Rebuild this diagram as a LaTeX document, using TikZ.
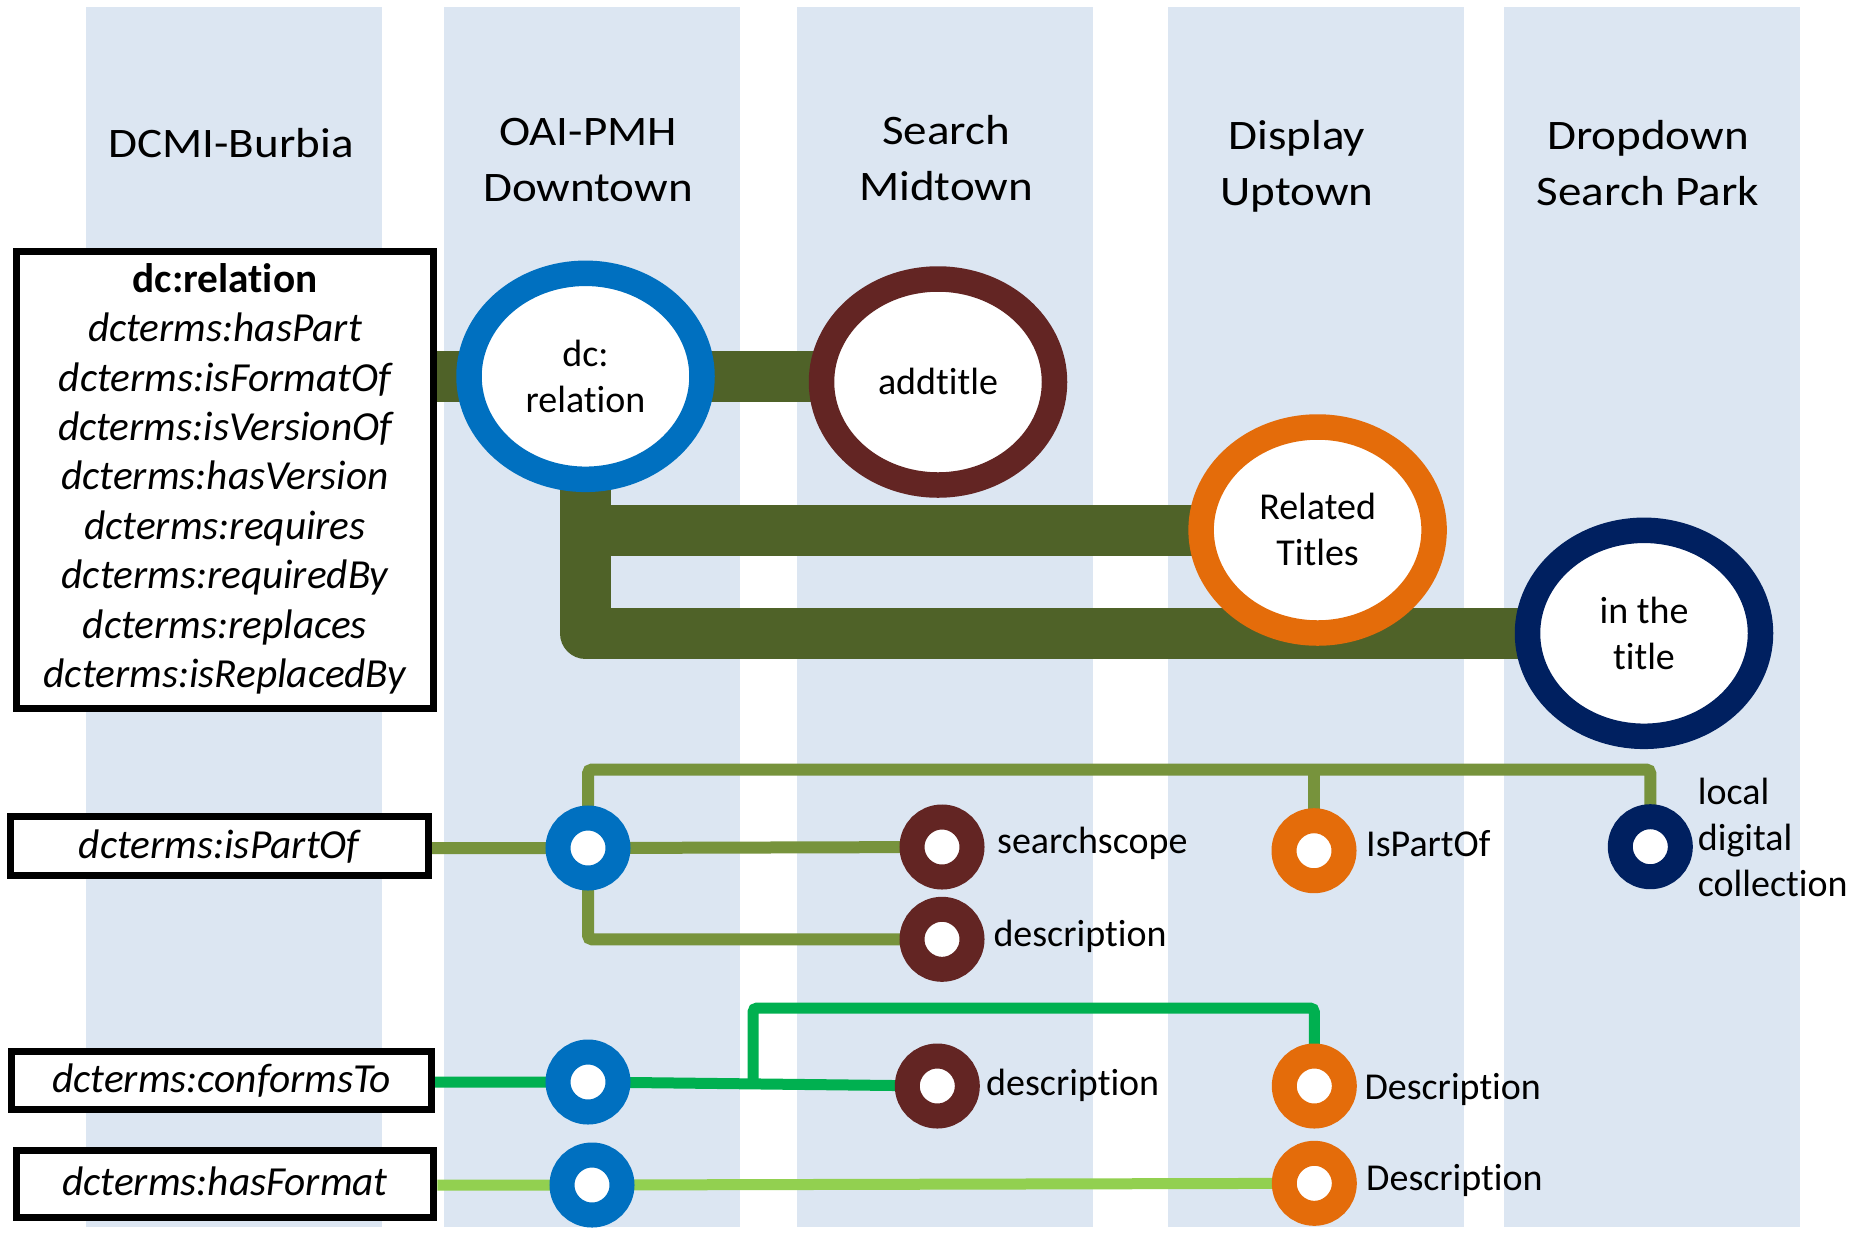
\documentclass[tikz,border=0pt]{standalone}
\usepackage{fontspec}
\setmainfont{Carlito}[Ligatures=NoCommon]
\usetikzlibrary{shapes.geometric}
\pgfdeclarelayer{bg}
\pgfdeclarelayer{lines}
\pgfsetlayers{bg,lines,main}
\definecolor{colbg}{HTML}{DCE6F2}
\definecolor{cblue}{HTML}{0070C0}
\definecolor{cdred}{HTML}{632523}
\definecolor{corange}{HTML}{E46C0A}
\definecolor{cnavy}{HTML}{002060}
\definecolor{cdgreen}{HTML}{4F6228}
\definecolor{colive}{HTML}{77933C}
\definecolor{cgreen}{HTML}{00B050}
\definecolor{clgreen}{HTML}{92D050}
\newcommand{\hdtext}[1]{\scalebox{1.12}[1]{\begin{tabular}[t]{@{}c@{}}#1\end{tabular}}}
\newcommand{\ctext}[1]{\begin{tabular}{@{}c@{}}#1\end{tabular}}
\newcommand{\stext}[1]{\raisebox{-3.5pt}[\height][\depth]{\begin{tabular}{@{}c@{}}#1\end{tabular}}}
\begin{document}
\begin{tikzpicture}[x=1pt,y=-1pt,
  hdr/.style={font=\fontsize{42}{56}\selectfont, anchor=base, inner sep=0pt},
  lbl/.style={font=\fontsize{38}{46}\selectfont, anchor=base west, inner sep=0pt},
  bigst/.style={ellipse, minimum width=233pt, minimum height=206pt, line width=25.5pt,
     fill=white, inner sep=0pt, font=\fontsize{38}{46}\selectfont},
  smallst/.style={circle, minimum size=60pt, line width=25pt, fill=white, inner sep=0pt},
  boxst/.style={draw=black, line width=7pt, fill=white, inner sep=0pt,
     font=\fontsize{41.3}{49.4}\selectfont\itshape},
  onebox/.style={boxst, text height=31pt, text depth=7pt},
  thickline/.style={draw=cdgreen, line width=51pt, line join=round},
  oliveline/.style={draw=colive, line width=12pt, rounded corners=4pt},
  greenline/.style={draw=cgreen, line width=11pt, rounded corners=4pt},
  lgreenline/.style={draw=clgreen, line width=11pt}]
\useasboundingbox (0,0) rectangle (1851,1232);
\begin{pgfonlayer}{bg}
  \fill[white] (0,0) rectangle (1851,1232);
  \foreach \cx in {85.5,444,797,1168,1503.5}
    \fill[colbg] (\cx,6.5) rectangle ++(296,1220.5);
\end{pgfonlayer}

% headers
\node[hdr] (h1) at (231,157) {\hdtext{DCMI-Burbia}};
\node[hdr] (h2) at (588,145) {\hdtext{OAI-PMH\\Downtown}};
\node[hdr] (h3) at (946,144.6) {\hdtext{Search\\Midtown}};
\node[hdr] (h4) at (1297,149) {\hdtext{Display\\Uptown}};
\node[hdr] (h5) at (1648,149) {\hdtext{Dropdown\\Search Park}};

% boxes
\node[boxst, minimum width=417.6pt, minimum height=456.4pt] (bigbox) at (225,480)
  {\ctext{{\upshape\bfseries dc:relation}\\dcterms:hasPart\\dcterms:isFormatOf\\dcterms:isVersionOf\\dcterms:hasVersion\\dcterms:requires\\dcterms:requiredBy\\dcterms:replaces\\dcterms:isReplacedBy}};
\node[onebox, minimum width=418pt, minimum height=59pt] (partof) at (219.2,846.3) {dcterms:isPartOf};
\node[onebox, minimum width=419.7pt, minimum height=58pt] (conforms) at (221.7,1080.2) {dcterms:conformsTo};
\node[onebox, minimum width=417.6pt, minimum height=67pt] (hasformat) at (225,1183.7) {dcterms:hasFormat};

% big stations
\node[bigst, draw=cblue] (blue) at (585.5,376.3) {\stext{dc:\\relation}};
\node[bigst, draw=cdred] (addtitle) at (938,382) {\stext{addtitle}};
\node[bigst, draw=corange] (related) at (1317.6,530) {\stext{Related\\Titles}};
\node[bigst, draw=cnavy] (intitle) at (1644,633.3) {\stext{in the\\title}};

% small stations
\node[smallst, draw=cblue] (b1) at (588,848) {};
\node[smallst, draw=cblue] (b2) at (588,1082) {};
\node[smallst, draw=cblue] (b3) at (592,1185) {};
\node[smallst, draw=cdred] (r1) at (942,847) {};
\node[smallst, draw=cdred] (r2) at (942,939.3) {};
\node[smallst, draw=cdred] (r3) at (937.3,1086) {};
\node[smallst, draw=corange] (o1) at (1314,850.7) {};
\node[smallst, draw=corange] (o3) at (1314.3,1086) {};
\node[smallst, draw=corange] (o4) at (1314.3,1183.3) {};
\node[smallst, draw=cnavy] (n1) at (1650.3,846.7) {};

% labels
\node[lbl] (l1) at (997,853.3) {searchscope};
\node[lbl] (l2) at (993.3,946.7) {description};
\node[lbl] (l3) at (986,1095) {description};
\node[lbl] (l4) at (1366,856.7) {IsPartOf};
\node[lbl] (l5) at (1364.3,1099.3) {Description};
\node[lbl] (l6) at (1366,1190) {Description};
\node[lbl] (l7) at (1697.7,804) {\begin{tabular}[t]{@{}l@{}}local\\digital\\collection\end{tabular}};

\coordinate (otop) at (1650.3,769.5);
\coordinate (gj) at (753,1084);
\coordinate (gtop) at (1314.3,1008);

\begin{pgfonlayer}{lines}
  % thick dc:relation line
  \draw[thickline] (bigbox.east |- blue.center) -- (blue.center -| addtitle.center);
  \draw[thickline] (blue.center) |- (intitle.center);
  \draw[thickline] (blue.center |- related.center) -- (related.center);
  % isPartOf
  \draw[oliveline] (partof.east |- b1.center) -- (b1.center) -- (r1.center);
  \draw[oliveline] (b1.center) |- (otop) -- (n1.center);
  \draw[oliveline] (o1.center |- otop) -- (o1.center);
  \draw[oliveline] (b1.center) |- (r2.center);
  % conformsTo
  \draw[greenline] (conforms.east |- b2.center) -- (b2.center) -- (r3.center);
  \draw[greenline] (gj) |- (gtop) -- (o3.center);
  % hasFormat
  \draw[lgreenline] (hasformat.east |- b3.center) -- (b3.center) -- (o4.center);
\end{pgfonlayer}
\end{tikzpicture}
\end{document}
